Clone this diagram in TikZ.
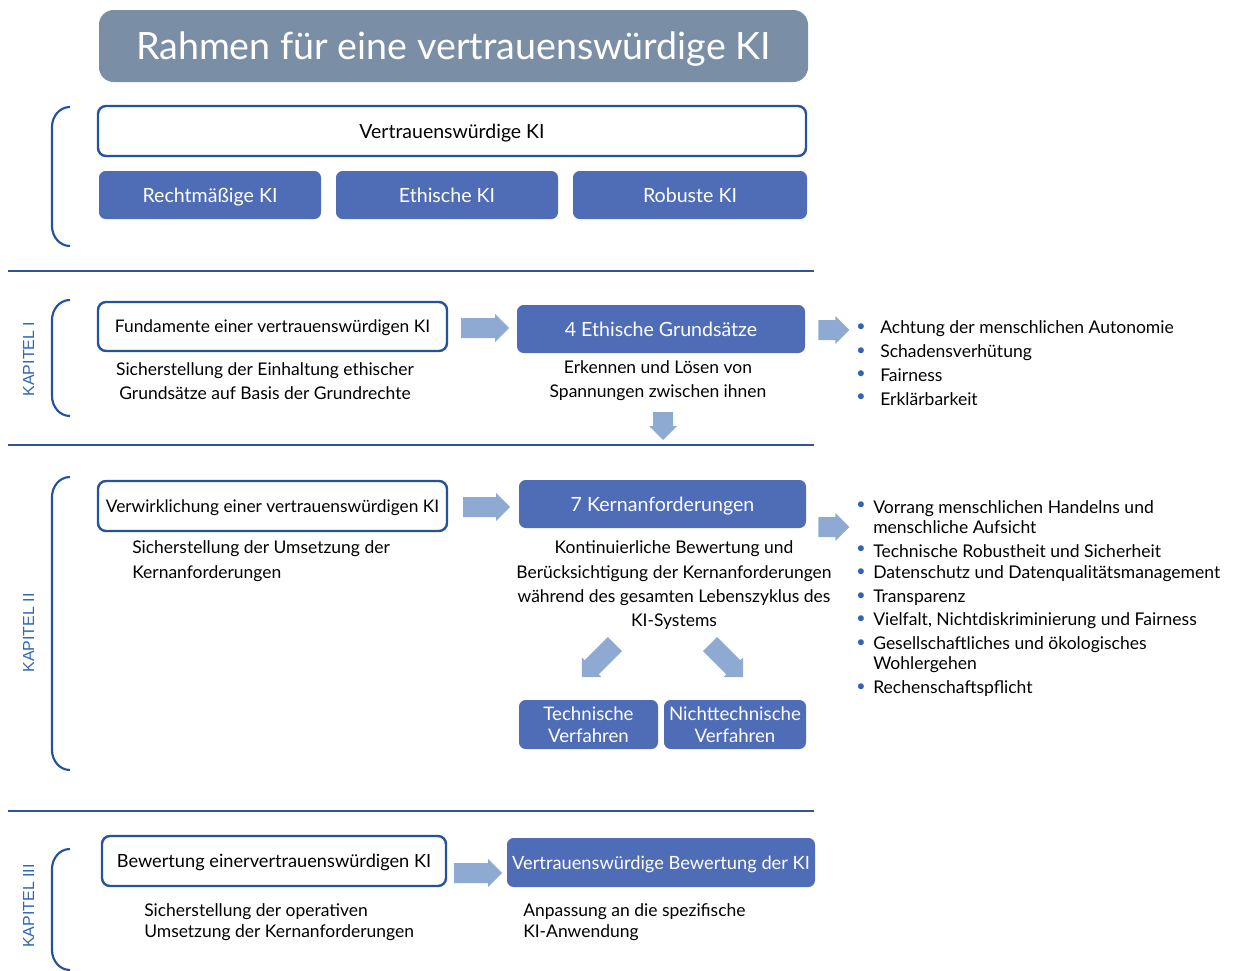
\documentclass[tikz,border=0pt]{standalone}
\usepackage{fontspec}
\setmainfont{Lato}
\newfontfamily\kapfont{Liberation Sans}
\usetikzlibrary{calc}
\definecolor{titlegrey}{RGB}{122,143,166}
\definecolor{boxblue}{RGB}{79,108,182}
\definecolor{borderblue}{RGB}{36,82,156}
\definecolor{arrowblue}{RGB}{143,170,210}
\definecolor{bulletblue}{RGB}{52,98,180}
\definecolor{kapblue}{RGB}{46,102,182}
\definecolor{sepblue}{RGB}{47,85,151}

\tikzset{
  titlebox/.style={fill=titlegrey,text=white,rounded corners=11pt,inner sep=0pt,
    text depth=0pt,font=\fontsize{28.2}{32}\selectfont},
  framebox/.style={draw=borderblue,line width=1.8pt,fill=white,rounded corners=6pt,
    inner sep=0pt,text depth=0pt,font=\fontsize{13}{16}\selectfont},
  fillbox/.style={fill=boxblue,text=white,rounded corners=5pt,inner sep=0pt,
    text depth=0pt,font=\fontsize{14.7}{17}\selectfont},
  bodytext/.style={align=center,inner sep=0pt,font=\fontsize{13.1}{18}\selectfont},
  leftbody/.style={bodytext,align=left,anchor=west},
  listitem/.style={anchor=west,align=left,inner sep=0pt,font=\fontsize{13.15}{15}\selectfont},
  listdot/.style={inner sep=0pt,text=bulletblue,font=\fontsize{12}{14}\selectfont},
  kaplabel/.style={rotate=90,inner sep=0pt,text=kapblue,font=\kapfont\fontsize{12}{14}\selectfont},
  bracket/.style={draw=borderblue,line width=1.6pt},
  sepline/.style={draw=sepblue,line width=1.2pt},
  pics/blockarrow/.style={code={
    \fill[arrowblue] (0,-10) -- ({#1-14},-10) -- ({#1-14},-14) -- (#1,0)
      -- ({#1-14},14) -- ({#1-14},10) -- (0,10) -- cycle;}}
}

\begin{document}
\begin{tikzpicture}[x=0.75pt,y=-0.75pt]
 \useasboundingbox (0,0) rectangle (1233,971);
 % title and overview
 \node[titlebox,minimum width=531.75pt,minimum height=54pt] (title) at (453.5,46)
   {Rahmen für eine vertrauenswürdige KI};
 \node[framebox,minimum width=531pt,minimum height=37.5pt,font=\fontsize{14.6}{17}\selectfont]
   (vki) at (452,131) {Vertrauenswürdige KI};
 \node[fillbox,minimum width=166.5pt,minimum height=36pt] (recht) at (210,195) {Rechtmäßige KI};
 \node[fillbox,minimum width=166.5pt,minimum height=36pt] (ethisch) at (447,195) {Ethische KI};
 \node[fillbox,minimum width=175.5pt,minimum height=36pt] (robust) at (690,195) {Robuste KI};
 \draw[bracket] (70,107) to[out=180,in=90] (52,127) -- (52,226) to[out=-90,in=180] (70,246);
 \draw[sepline] (8,271) -- (814,271);

 % Kapitel I
 \node[kaplabel] (kap1) at (28.5,359) {KAPITEL I};
 \draw[bracket] (70,300) to[out=180,in=90] (52,320) -- (52,396) to[out=-90,in=180] (70,416);
 \node[framebox,minimum width=261.75pt,minimum height=36.75pt] (fund) at (272.5,326.5)
   {Fundamente einer vertrauenswürdigen KI};
 \node[bodytext] (fundtxt) at (265,381)
   {Sicherstellung der Einhaltung ethischer\\Grundsätze auf Basis der Grundrechte};
 \pic at ($(fund.east)+(13,1.5)$) {blockarrow=48};
 \node[fillbox,minimum width=216pt,minimum height=36pt] (ethik) at (661,329)
   {4 Ethische Grundsätze};
 \node[bodytext] (ethiktxt) at (658,381)
   {Erkennen und Lösen von\\Spannungen zwischen ihnen};
 \pic[rotate=-90] at (663,412) {blockarrow=28};
 \pic at ($(ethik.east)+(13,1)$) {blockarrow=31};
 \foreach \txt [count=\i] in {Achtung der menschlichen Autonomie,Schadensverhütung,Fairness,Erklärbarkeit}{
   \node[listdot] (gdot\i) at (861,{328+23.3*(\i-1)}) {•};
   \node[listitem] (gitem\i) at (880,{329+23.3*(\i-1)}) {\txt};
 }
 \draw[sepline] (8,445) -- (814,445);

 % Kapitel II
 \node[kaplabel] (kap2) at (28.5,633) {KAPITEL II};
 \draw[bracket] (70,477) to[out=180,in=90] (52,497) -- (52,750) to[out=-90,in=180] (70,770);
 \node[framebox,minimum width=261.75pt,minimum height=37.5pt] (verw) at (272.5,506)
   {Verwirklichung einer vertrauenswürdigen KI};
 \node[leftbody,font=\fontsize{13.1}{18.75}\selectfont] (verwtxt) at (132,561.5)
   {Sicherstellung der Umsetzung der\\Kernanforderungen};
 \pic at ($(verw.east)+(15,1)$) {blockarrow=47};
 \node[fillbox,minimum width=215.25pt,minimum height=36pt] (kern) at (662.5,504)
   {7 Kernanforderungen};
 \node[bodytext,font=\fontsize{13.1}{18.25}\selectfont] (kerntxt) at (674,585.5)
   {Kontinuierliche Bewertung und\\Berücksichtigung der Kernanforderungen\\während des gesamten Lebenszyklus des\\KI-Systems};
 \pic[rotate=-135] at (615,644) {blockarrow=47};
 \pic[rotate=-45] at (710,644) {blockarrow=47};
 \node[fillbox,minimum width=104.25pt,minimum height=36.75pt,align=center,
   font=\fontsize{14}{17}\selectfont] (tech) at (588.5,724.5) {Technische\\Verfahren};
 \node[fillbox,minimum width=106.5pt,minimum height=36.75pt,align=center,
   font=\fontsize{14}{17}\selectfont] (nicht) at (735,724.5) {Nichttechnische\\Verfahren};
 \pic at ($(kern.east)+(12,23)$) {blockarrow=31};
 \node[listdot] (kdot1) at (861,506) {•};
 \node[listitem] (kitem1) at (873,517) {Vorrang menschlichen Handelns und\\menschliche Aufsicht};
 \node[listdot] (kdot2) at (861,550) {•};
 \node[listitem] (kitem2) at (873,551) {Technische Robustheit und Sicherheit};
 \node[listdot] (kdot3) at (861,573) {•};
 \node[listitem] (kitem3) at (873,574) {Datenschutz und Datenqualitätsmanagement};
 \node[listdot] (kdot4) at (861,597) {•};
 \node[listitem] (kitem4) at (873,598) {Transparenz};
 \node[listdot] (kdot5) at (861,620) {•};
 \node[listitem] (kitem5) at (873,621) {Vielfalt, Nichtdiskriminierung und Fairness};
 \node[listdot] (kdot6) at (861,644) {•};
 \node[listitem] (kitem6) at (873,655) {Gesellschaftliches und ökologisches\\Wohlergehen};
 \node[listdot] (kdot7) at (861,688) {•};
 \node[listitem] (kitem7) at (873,689) {Rechenschaftspflicht};
 \draw[sepline] (8,811) -- (814,811);

 % Kapitel III
 \node[kaplabel] (kap3) at (28.5,906) {KAPITEL III};
 \draw[bracket] (70,849) to[out=180,in=90] (52,869) -- (52,950) to[out=-90,in=180] (70,970);
 \node[framebox,minimum width=258pt,minimum height=37.5pt,font=\fontsize{13.65}{16}\selectfont]
   (bew) at (274,861) {Bewertung einervertrauenswürdigen KI};
 \node[leftbody,font=\fontsize{13.1}{15.75}\selectfont] (bewtxt) at (144,922.5)
   {Sicherstellung der operativen\\Umsetzung der Kernanforderungen};
 \pic at ($(bew.east)+(7,12)$) {blockarrow=48};
 \node[fillbox,minimum width=231pt,minimum height=36.75pt,font=\fontsize{13.7}{16}\selectfont]
   (vbew) at (661,862.5) {Vertrauenswürdige Bewertung der KI};
 \node[leftbody,font=\fontsize{13.1}{15.75}\selectfont] (vbewtxt) at (523,922.5)
   {Anpassung an die spezifische\\KI-Anwendung};
\end{tikzpicture}
\end{document}
